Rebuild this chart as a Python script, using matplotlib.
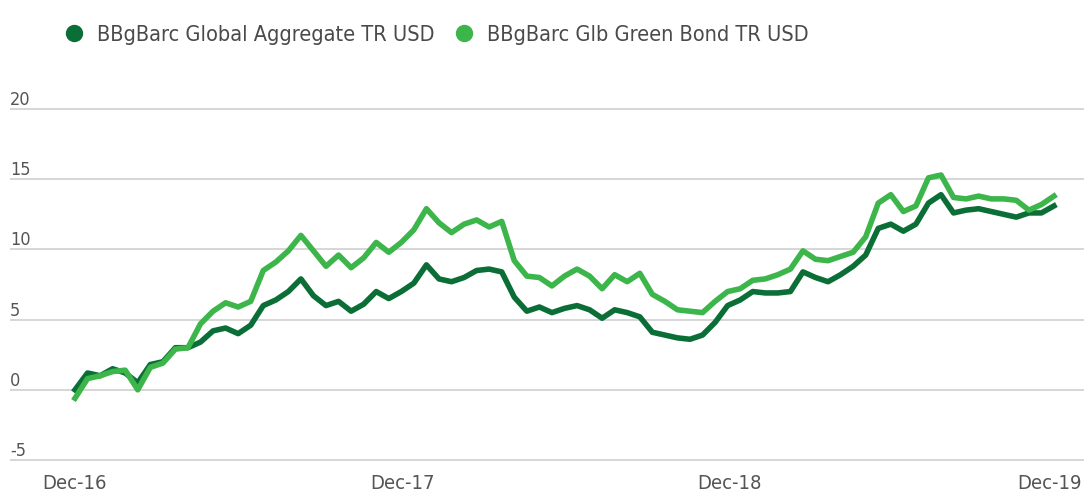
import numpy as np
import pandas as pd
import matplotlib
matplotlib.use("Agg")
import matplotlib.pyplot as plt
from matplotlib.lines import Line2D

# narrow face for all labels
plt.rcParams['font.family'] = ['DejaVu Sans']
plt.rcParams['font.stretch'] = 'condensed'

# fortnightly cumulative total return, %
dates = pd.date_range('2016-12-16', periods=79, freq='14D')

global_agg = [
    0.0, 1.2, 1.0, 1.5, 1.2, 0.5, 1.8, 2.0, 3.0, 3.0,
    3.4, 4.2, 4.4, 4.0, 4.6, 6.0, 6.4, 7.0, 7.9, 6.7,
    6.0, 6.3, 5.6, 6.1, 7.0, 6.5, 7.0, 7.6, 8.9, 7.9,
    7.7, 8.0, 8.5, 8.6, 8.4, 6.6, 5.6, 5.9, 5.5, 5.8,
    6.0, 5.7, 5.1, 5.7, 5.5, 5.2, 4.1, 3.9, 3.7, 3.6,
    3.9, 4.8, 6.0, 6.4, 7.0, 6.9, 6.9, 7.0, 8.4, 8.0,
    7.7, 8.2, 8.8, 9.6, 11.5, 11.8, 11.3, 11.8, 13.3, 13.9,
    12.6, 12.8, 12.9, 12.7, 12.5, 12.3, 12.6, 12.6, 13.1,
]

green_bond = [
    -0.6, 0.8, 1.0, 1.3, 1.4, 0.0, 1.6, 1.9, 2.9, 3.0,
    4.7, 5.6, 6.2, 5.9, 6.3, 8.5, 9.1, 9.9, 11.0, 9.9,
    8.8, 9.6, 8.7, 9.4, 10.5, 9.8, 10.5, 11.4, 12.9, 11.9,
    11.2, 11.8, 12.1, 11.6, 12.0, 9.2, 8.1, 8.0, 7.4, 8.1,
    8.6, 8.1, 7.2, 8.2, 7.7, 8.3, 6.8, 6.3, 5.7, 5.6,
    5.5, 6.3, 7.0, 7.2, 7.8, 7.9, 8.2, 8.6, 9.9, 9.3,
    9.2, 9.5, 9.8, 10.9, 13.3, 13.9, 12.7, 13.1, 15.1, 15.3,
    13.7, 13.6, 13.8, 13.6, 13.6, 13.5, 12.8, 13.2, 13.8,
]

series_names = ['BBgBarc Global Aggregate TR USD', 'BBgBarc Glb Green Bond TR USD']
series_colors = ['#0b6e37', '#3cb54a']

y_ticks = [-5, 0, 5, 10, 15, 20]
x_tick_dates = ['2016-12-16', '2017-12-16', '2018-12-16', '2019-12-08']
x_tick_labels = ['Dec-16', 'Dec-17', 'Dec-18', 'Dec-19']

fig = plt.figure(figsize=(10.84, 4.95), dpi=100)
ax = fig.add_axes([10 / 1084, 0.0622, 1 - 10 / 1084, 0.726])

for vals, col in zip([global_agg, green_bond], series_colors):
    ax.plot(dates, vals, color=col, lw=4.0, solid_joinstyle='round', zorder=3)

ax.set_ylim(-5.3, 20.3)
ax.set_xlim(dates[0] - pd.Timedelta(days=72.5), dates[-1] + pd.Timedelta(days=33.5))

# horizontal grid with the values sitting on top of each line
for t in y_ticks:
    ax.axhline(t, color='#d6d6d6', lw=1.4, zorder=1)
    ax.text(0.0, t, str(t), transform=ax.get_yaxis_transform(),
            ha='left', va='bottom', fontsize=13, color='#555555')
ax.set_yticks([])

ax.set_xticks(pd.to_datetime(x_tick_dates))
ax.set_xticklabels(x_tick_labels, fontsize=14.5, color='#555555')
ax.tick_params(axis='x', length=0, pad=7)

for s in ax.spines.values():
    s.set_visible(False)

handles = [Line2D([], [], marker='o', ls='none', ms=11.5, color=c) for c in series_colors]
fig.legend(handles, series_names, loc='upper left', bbox_to_anchor=(44 / 1084, 1 - 16 / 495),
           ncol=2, frameon=False, fontsize=15.6, handletextpad=0.05, columnspacing=0.35,
           labelcolor='#4a4a4a', borderaxespad=0)

fig.savefig('out.png', dpi=100)
